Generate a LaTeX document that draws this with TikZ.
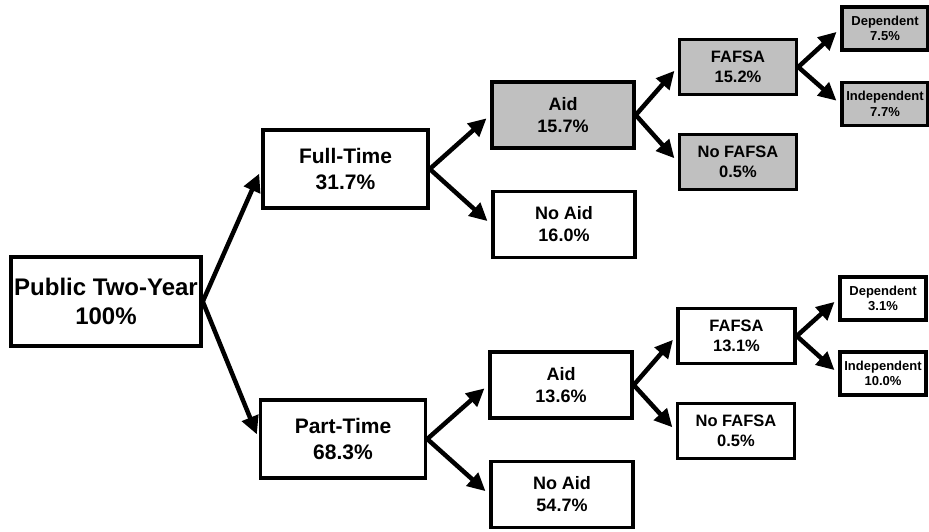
\documentclass[tikz,border=0pt]{standalone}
\usepackage{fontspec}
\setmainfont{Liberation Sans}
\usetikzlibrary{arrows.meta}
\definecolor{aidgray}{RGB}{192, 192, 192}

\begin{document}
\begin{tikzpicture}[
        x=1pt, y=-1pt,
        box/.style={rectangle, draw=black, line width=3.5pt, fill=white, align=center, inner sep=0pt},
        shaded/.style={box, fill=aidgray},
        lvlzero/.style={minimum width=190pt, minimum height=89pt, font=\bfseries\fontsize{24}{29}\selectfont},
        lvlone/.style={minimum width=165pt, minimum height=78pt, font=\bfseries\fontsize{21}{25.5}\selectfont},
        lvltwo/.style={minimum width=142pt, minimum height=66pt, font=\bfseries\fontsize{18}{22}\selectfont},
        lvlthree/.style={minimum width=117pt, minimum height=55pt, font=\bfseries\fontsize{16.5}{20}\selectfont},
        lvlfour/.style={minimum width=86pt, minimum height=43pt, font=\bfseries\fontsize{13}{15.5}\selectfont},
        branch/.style={line width=4.5pt, -{Triangle[length=18pt, width=17pt]}, shorten >=5pt}
    ]
        \useasboundingbox (0,0) rectangle (929,531);

        % Root
        \node[box, lvlzero] (root) at (106,301.5) {Public Two-Year\\100\%};

        % Enrollment
        \node[box, lvlone] (fulltime) at (345.5,169) {Full-Time\\31.7\%};
        \node[box, lvlone] (parttime) at (343,439) {Part-Time\\68.3\%};

        % Aid
        \node[shaded, lvltwo] (ftaid) at (563,115) {Aid\\15.7\%};
        \node[box, lvltwo] (ftnoaid) at (564,224.5) {No Aid\\16.0\%};
        \node[box, lvltwo] (ptaid) at (561,385) {Aid\\13.6\%};
        \node[box, lvltwo] (ptnoaid) at (562,494.5) {No Aid\\54.7\%};

        % FAFSA
        \node[shaded, lvlthree] (ftfafsa) at (738,67) {FAFSA\\15.2\%};
        \node[shaded, lvlthree] (ftnofafsa) at (738,162) {No FAFSA\\0.5\%};
        \node[box, lvlthree] (ptfafsa) at (736.5,336) {FAFSA\\13.1\%};
        \node[box, lvlthree] (ptnofafsa) at (736,431) {No FAFSA\\0.5\%};

        % Dependency
        \node[shaded, lvlfour] (ftdep) at (885,28.5) {Dependent\\7.5\%};
        \node[shaded, lvlfour] (ftind) at (885,104) {Independent\\7.7\%};
        \node[box, lvlfour] (ptdep) at (883,298.5) {Dependent\\3.1\%};
        \node[box, lvlfour] (ptind) at (883,373.5) {Independent\\10.0\%};

        % Arrows
        \draw[branch] (root.east) -- (fulltime.west);
        \draw[branch] (root.east) -- (parttime.west);
        \draw[branch] (fulltime.east) -- (ftaid.west);
        \draw[branch] (fulltime.east) -- (ftnoaid.west);
        \draw[branch] (parttime.east) -- (ptaid.west);
        \draw[branch] (parttime.east) -- (ptnoaid.west);
        \draw[branch] (ftaid.east) -- (ftfafsa.west);
        \draw[branch] (ftaid.east) -- (ftnofafsa.west);
        \draw[branch] (ptaid.east) -- (ptfafsa.west);
        \draw[branch] (ptaid.east) -- (ptnofafsa.west);
        \draw[branch] (ftfafsa.east) -- (ftdep.west);
        \draw[branch] (ftfafsa.east) -- (ftind.west);
        \draw[branch] (ptfafsa.east) -- (ptdep.west);
        \draw[branch] (ptfafsa.east) -- (ptind.west);
    \end{tikzpicture}
\end{document}
